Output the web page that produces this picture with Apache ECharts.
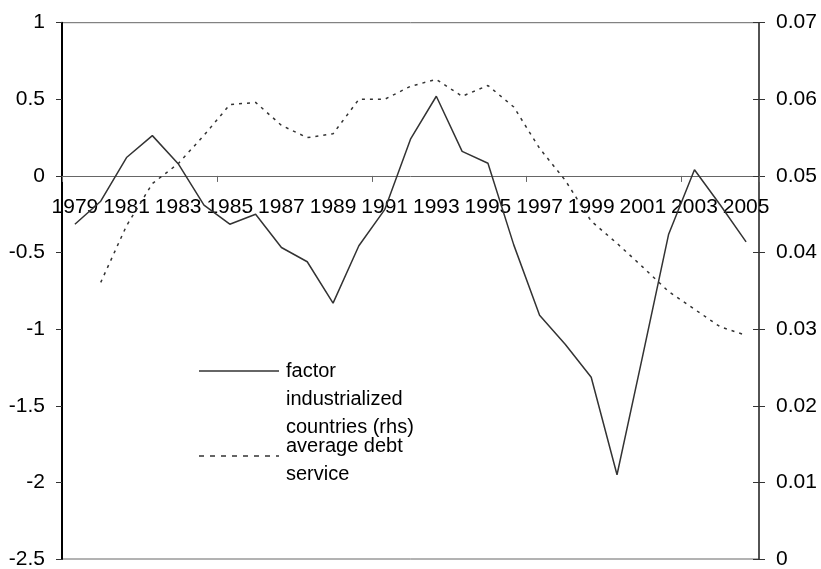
<!DOCTYPE html>
<html>
<head>
<meta charset="utf-8">
<script src="https://cdn.jsdelivr.net/npm/echarts@6/dist/echarts.min.js"></script>
<style>html,body{margin:0;padding:0;background:#fff;}#c{width:821px;height:569px;}</style>
</head>
<body>
<div id="c"></div>
<script>
var years = ['1979','1980','1981','1982','1983','1984','1985','1986','1987','1988','1989','1990','1991','1992','1993','1994','1995','1996','1997','1998','1999','2000','2001','2002','2003','2004','2005'];
var factor = [-0.315,-0.165,0.12,0.263,0.08,-0.19,-0.315,-0.25,-0.467,-0.56,-0.83,-0.456,-0.22,0.24,0.52,0.16,0.083,-0.45,-0.91,-1.1,-1.314,-1.95,-1.17,-0.38,0.04,-0.19,-0.43];
var debtService = [null,0.0361,0.0435,0.049,0.0516,0.0553,0.0593,0.0596,0.0566,0.055,0.0555,0.060,0.060,0.0617,0.0626,0.0604,0.0618,0.059,0.0536,0.0494,0.0441,0.0412,0.0381,0.0349,0.0326,0.0303,0.0292];
var legendLines = ['factor','industrialized','countries (rhs)','average debt','service'];

var FONT = '"Liberation Sans", Arial, sans-serif';
var W = 821, H = 569;
var G = {left:62, right:62, top:22.7, bottom:10};
var LMIN = -2.5, LMAX = 1;
var plotH = H - G.top - G.bottom;
var zeroOffset = -((0 - LMIN) / (LMAX - LMIN)) * plotH;

var chart = echarts.init(document.getElementById('c'), null, {renderer:'canvas'});
var legendY = [371, 399, 427, 446, 474];
var graphics = [
  {type:'line', shape:{x1:199,y1:371,x2:279,y2:371}, style:{stroke:'#333',lineWidth:1.5}},
  {type:'line', shape:{x1:199,y1:456,x2:279,y2:456}, style:{stroke:'#333',lineWidth:1.5,lineDash:[5,6]}}
];
legendLines.forEach(function(t,i){
  graphics.push({type:'text', x:286, y:legendY[i], style:{text:t, fill:'#000', font:'20px '+FONT, textVerticalAlign:'middle', textAlign:'left'}});
});
chart.setOption({
  animation:false,
  backgroundColor:'#fff',
  textStyle:{fontFamily:FONT},
  grid:{left:G.left, right:G.right, top:G.top, bottom:G.bottom, containLabel:false, outerBoundsMode:'none', show:true, borderColor:'#666', borderWidth:1},
  xAxis:{
    type:'category', data:years, boundaryGap:true, position:'bottom', offset:zeroOffset,
    axisLine:{onZero:false, lineStyle:{color:'#666', width:1}},
    axisTick:{show:true, interval:5, length:6, lineStyle:{color:'#666'}},
    axisLabel:{interval:1, margin:21, fontSize:21, color:'#000', fontFamily:FONT, hideOverlap:false},
    splitLine:{show:false}
  },
  yAxis:[
    {type:'value', position:'left', min:LMIN, max:LMAX, interval:0.5,
     axisLine:{show:true, lineStyle:{color:'#000', width:2}},
     axisTick:{show:true, length:6, lineStyle:{color:'#333'}},
     axisLabel:{margin:17, fontSize:21, color:'#000', fontFamily:FONT},
     splitLine:{show:false}},
    {type:'value', position:'right', min:0, max:0.07, interval:0.01,
     axisLine:{show:true, lineStyle:{color:'#333', width:1.5}},
     axisTick:{show:true, length:6, lineStyle:{color:'#333'}},
     axisLabel:{margin:17, fontSize:21, color:'#000', fontFamily:FONT},
     splitLine:{show:false}},
    {type:'value', position:'right', min:0, max:0.07, interval:0.01,
     axisLine:{show:false},
     axisTick:{show:true, inside:true, length:6, lineStyle:{color:'#333'}},
     axisLabel:{show:false},
     splitLine:{show:false}}
  ],
  series:[
    {name:'factor', type:'line', yAxisIndex:0, data:factor, symbol:'none',
     lineStyle:{color:'#333', width:1.5}},
    {name:'industrialized countries (rhs) average debt service', type:'line', yAxisIndex:1, data:debtService, symbol:'none',
     lineStyle:{color:'#333', width:1.5, type:[3,5]}}
  ],
  graphic:graphics
});
</script>
</body>
</html>
